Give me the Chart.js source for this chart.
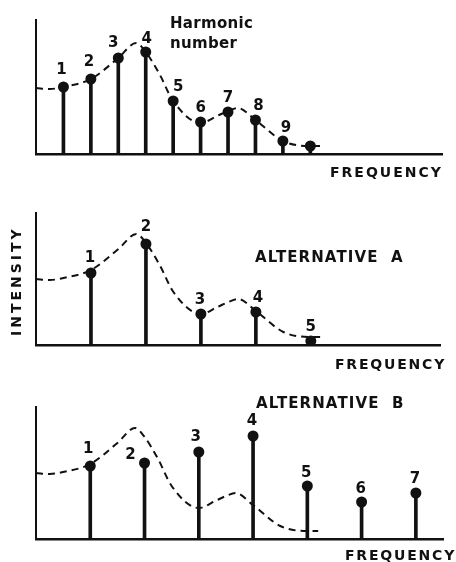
<!DOCTYPE html>
<html>
<head>
<meta charset="utf-8">
<script src="https://cdn.jsdelivr.net/npm/chart.js@4/dist/chart.umd.min.js"></script>
<style>
  html, body { margin: 0; padding: 0; background: #fff; }
  body { width: 456px; height: 562px; position: relative; overflow: hidden; }
  canvas.panel { position: absolute; left: 0; }
  .txt { position: absolute; font-family: "DejaVu Sans", sans-serif; font-weight: bold; color: #111; white-space: nowrap; line-height: 1; }
</style>
</head>
<body>
<canvas id="c1" class="panel" width="456" height="190" style="top:0px"></canvas>
<canvas id="c2" class="panel" width="456" height="190" style="top:190px"></canvas>
<canvas id="c3" class="panel" width="456" height="182" style="top:380px"></canvas>

<div class="txt" style="left:170px; top:13px; font-size:15px; line-height:20px; letter-spacing:0.3px;">Harmonic<br>number</div>
<div class="txt" style="left:330px; top:165px; font-size:14px; letter-spacing:2px;">FREQUENCY</div>
<div class="txt" style="left:255px; top:250px; font-size:15px; letter-spacing:1.1px;">ALTERNATIVE&nbsp;&nbsp;A</div>
<div class="txt" style="left:335px; top:357px; font-size:14px; letter-spacing:1.8px;">FREQUENCY</div>
<div class="txt" style="left:-34px; top:279px; font-size:14px; letter-spacing:3px; transform: rotate(-90deg); transform-origin: 50% 50%; width:100px; text-align:center;">INTENSITY</div>
<div class="txt" style="left:256px; top:396px; font-size:15px; letter-spacing:1.1px;">ALTERNATIVE&nbsp;&nbsp;B</div>
<div class="txt" style="left:345px; top:548px; font-size:14px; letter-spacing:1.8px;">FREQUENCY</div>

<script>
// ---- Data (frequency in units of the top panel's fundamental; intensity in arbitrary units) ----
// Spectral envelope (formant curve), shared by all three panels
const envelopeX = [0, 0.5, 1, 2, 3, 3.65, 4, 4.5, 5, 6, 6.6, 7, 7.35, 8, 9, 10, 10.4];
const envelopeY = [66, 65, 67, 75, 96, 111, 102, 80, 53, 31, 38, 43, 46, 34, 13, 8, 8];

// Top panel: harmonics of the original tone
const harmonicsTopX = [1, 2, 3, 4, 5, 6, 7, 8, 9, 10];
const harmonicsTopY = [67, 75, 96, 102, 53, 32, 42, 34, 13, 8];
const harmonicsTopLabels = ["1", "2", "3", "4", "5", "6", "7", "8", "9", ""];

// Alternative A: doubled fundamental, envelope preserved
const harmonicsAX = [2, 4, 6, 8, 10];
const harmonicsAY = [72, 101, 31, 33, 4];
const harmonicsALabels = ["1", "2", "3", "4", "5"];

// Alternative B: doubled fundamental, spectrum shifted
const harmonicsBX = [2, 4, 6, 8, 10, 12, 14];
const harmonicsBY = [73, 76, 87, 103, 53, 37, 46];
const harmonicsBLabels = ["1", "2", "3", "4", "5", "6", "7"];

// ---- Label placement offsets (pixels, style only) ----
const offsTop = [[-2,-17],[-2,-17],[-5,-15],[1,-13],[5,-14],[0,-14],[0,-14],[3,-14],[3,-13],[0,0]];
const offsA   = [[-1,-15],[0,-17],[-1,-14],[2,-14],[0,-14]];
const offsB   = [[-2,-17],[-14,-8],[-3,-15],[-1,-15],[-1,-13],[-1,-13],[-1,-14]];

const INK = '#111';

const labelPlugin = {
  id: 'harmLabels',
  afterDatasetsDraw(chart) {
    const o = chart.options.plugins.harmLabels;
    const meta = chart.getDatasetMeta(1);
    const ctx = chart.ctx;
    ctx.save();
    ctx.fillStyle = INK;
    ctx.font = 'bold 15px "DejaVu Sans", sans-serif';
    ctx.textAlign = 'center';
    ctx.textBaseline = 'middle';
    meta.data.forEach((pt, i) => {
      const t = o.labels[i];
      if (!t) return;
      const off = o.offsets[i] || [0, -15];
      ctx.fillText(t, pt.x + off[0], pt.y + off[1]);
    });
    ctx.restore();
  }
};

function zip(xs, ys) { return xs.map((x, i) => ({ x: x, y: ys[i] })); }

function makePanel(id, hx, hy, labels, offsets, envEndX, xMax, yMax, pad) {
  const env = zip(envelopeX, envelopeY).filter(p => p.x <= envEndX);
  return new Chart(document.getElementById(id), {
    data: {
      datasets: [
        {
          type: 'bar',
          data: zip(hx, hy),
          backgroundColor: INK,
          borderWidth: 0,
          barThickness: 3,
          order: 2
        },
        {
          type: 'scatter',
          data: zip(hx, hy),
          pointRadius: 5.5,
          pointBackgroundColor: INK,
          pointBorderWidth: 0,
          order: 1
        },
        {
          type: 'line',
          data: env,
          borderColor: INK,
          borderWidth: 2,
          borderDash: [7, 5],
          pointRadius: 0,
          fill: false,
          cubicInterpolationMode: 'monotone',
          order: 3
        }
      ]
    },
    options: {
      responsive: false,
      animation: false,
      events: [],
      layout: { padding: pad },
      plugins: {
        legend: { display: false },
        tooltip: { enabled: false },
        harmLabels: { labels: labels, offsets: offsets }
      },
      scales: {
        x: {
          type: 'linear', min: 0, max: xMax, offset: false,
          grid: { display: false, drawTicks: false },
          ticks: { display: false },
          border: { display: true, color: INK, width: 2.5 }
        },
        y: {
          type: 'linear', min: 0, max: yMax,
          grid: { display: false, drawTicks: false },
          ticks: { display: false },
          border: { display: true, color: INK, width: 2 }
        }
      }
    },
    plugins: [labelPlugin]
  });
}

// canvas-local paddings place each plot frame
makePanel('c1', harmonicsTopX, harmonicsTopY, harmonicsTopLabels, offsTop, 10.5, 14.8, 134,
  { left: 36, top: 20, right: 14, bottom: 36 });
makePanel('c2', harmonicsAX, harmonicsAY, harmonicsALabels, offsA, 10.5, 14.7, 132,
  { left: 36, top: 23, right: 16, bottom: 35 });
makePanel('c3', harmonicsBX, harmonicsBY, harmonicsBLabels, offsB, 10.5, 15.0, 132,
  { left: 36, top: 27, right: 13, bottom: 23 });
</script>
</body>
</html>
